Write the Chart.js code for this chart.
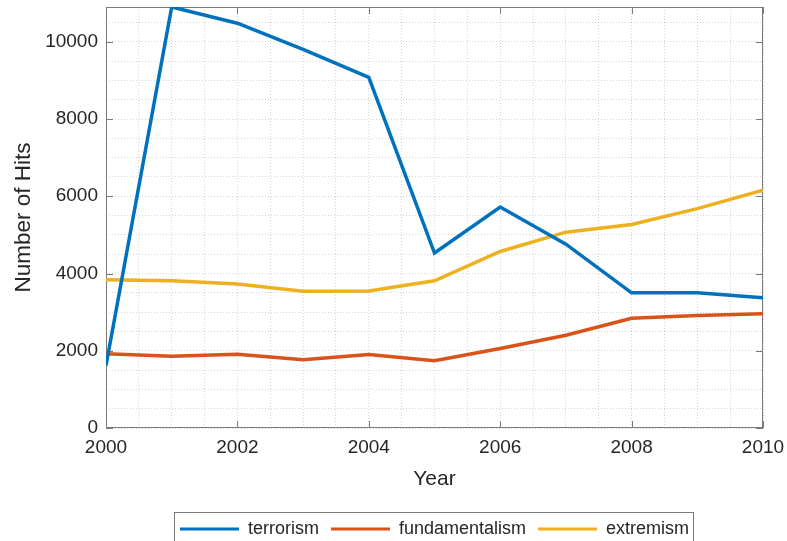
<!DOCTYPE html>
<html>
<head>
<meta charset="utf-8">
<script src="https://cdn.jsdelivr.net/npm/chart.js@4"></script>
<style>
  html, body { margin: 0; padding: 0; background: #fff; overflow: hidden; }
  #wrap { width: 787px; height: 548px; }
</style>
</head>
<body>
<div id="wrap"><canvas id="hits"></canvas></div>
<script>
const years = [2000, 2001, 2002, 2003, 2004, 2005, 2006, 2007, 2008, 2009, 2010];
const terrorism = [1620, 10900, 10480, 9800, 9080, 4530, 5720, 4760, 3500, 3500, 3370];
const fundamentalism = [1920, 1860, 1910, 1770, 1900, 1740, 2060, 2400, 2840, 2910, 2960];
const extremism = [3840, 3810, 3730, 3540, 3550, 3810, 4570, 5070, 5270, 5680, 6160];
const yearTicks = [2000, 2002, 2004, 2006, 2008, 2010];
const hitTicks = [0, 2000, 4000, 6000, 8000, 10000];

const FONT = '"Liberation Sans", Arial, Helvetica, sans-serif';
const INK = '#262626';
const AXIS = '#7a7a7a';

// dotted grid: every half year and every 500 hits
const gridYears = [];
for (let v = 2000; v <= 2010; v += 0.5) gridYears.push(v);
const gridHits = [];
for (let v = 0; v <= 10500; v += 500) gridHits.push(v);

function series(label, values, color) {
  return {
    label,
    data: years.map((y, i) => ({ x: y, y: values[i] })),
    borderColor: color,
    backgroundColor: color,
    borderWidth: 3.5,
    pointRadius: 0,
    tension: 0,
  };
}

// no extra room for overhanging end labels: the plot box is placed by layout padding
function noEdgePadding(scale) {
  scale.paddingTop = 0;
  scale.paddingBottom = 0;
  scale.paddingLeft = 0;
  scale.paddingRight = 0;
}

// box around the axes with inward tick marks, plus a frame around the legend
const frame = {
  id: 'frame',
  beforeDatasetsDraw(chart) {
    const { ctx, chartArea: a, scales } = chart;
    const len = 7;
    ctx.save();
    ctx.strokeStyle = AXIS;
    ctx.lineWidth = 1;
    ctx.strokeRect(a.left + 0.5, a.top + 0.5, a.right - a.left - 1, a.bottom - a.top - 1);
    ctx.beginPath();
    yearTicks.forEach(v => {
      const x = Math.round(scales.x.getPixelForValue(v)) + 0.5;
      ctx.moveTo(x, a.bottom); ctx.lineTo(x, a.bottom - len);
      ctx.moveTo(x, a.top); ctx.lineTo(x, a.top + len);
    });
    hitTicks.forEach(v => {
      const y = Math.round(scales.y.getPixelForValue(v)) + 0.5;
      ctx.moveTo(a.left, y); ctx.lineTo(a.left + len, y);
      ctx.moveTo(a.right, y); ctx.lineTo(a.right - len, y);
    });
    ctx.stroke();
    ctx.restore();
  },
  afterDraw(chart) {
    const boxes = chart.legend.legendHitBoxes;
    if (!boxes || !boxes.length) return;
    const first = boxes[0];
    const last = boxes[boxes.length - 1];
    const mid = first.top + first.height / 2;
    const ctx = chart.ctx;
    ctx.save();
    ctx.strokeStyle = AXIS;
    ctx.lineWidth = 1;
    const l = Math.round(first.left - 6) + 0.5;
    const r = Math.round(last.left + last.width + 4) + 0.5;
    const t = Math.round(mid - 17) + 0.5;
    ctx.strokeRect(l, t, r - l, 40);
    ctx.restore();
  }
};

new Chart(document.getElementById('hits'), {
  type: 'line',
  data: {
    datasets: [
      series('terrorism', terrorism, '#0072BD'),
      series('fundamentalism', fundamentalism, '#D95319'),
      series('extremism', extremism, '#EDB120'),
    ],
  },
  options: {
    responsive: true,
    maintainAspectRatio: false,
    animation: false,
    layout: { padding: { left: 0, right: 24, top: 7, bottom: 0 } },
    plugins: {
      tooltip: { enabled: false },
      legend: {
        position: 'bottom',
        fullSize: false,
        labels: {
          boxWidth: 59,
          boxHeight: 3,
          padding: 12,
          color: INK,
          font: { family: FONT, size: 18 },
          generateLabels(chart) {
            return Chart.defaults.plugins.legend.labels.generateLabels(chart)
              .map(item => Object.assign(item, { lineWidth: 0 }));
          },
        },
      },
    },
    scales: {
      x: {
        type: 'linear',
        min: 2000,
        max: 2010,
        afterBuildTicks(scale) { scale.ticks = gridYears.map(value => ({ value })); },
        afterFit(scale) { scale.height = 80; noEdgePadding(scale); },
        ticks: {
          autoSkip: false,
          maxRotation: 0,
          padding: 8,
          color: INK,
          font: { family: FONT, size: 19 },
          callback: v => (yearTicks.includes(v) ? String(v) : ''),
        },
        grid: { color: 'rgba(0,0,0,0.17)', drawTicks: false },
        border: { display: false, dash: [1, 2] },
        title: {
          display: true,
          text: 'Year',
          color: INK,
          font: { family: FONT, size: 21 },
          padding: { top: 0, bottom: 16 },
        },
      },
      y: {
        min: 0,
        max: 10900,
        afterBuildTicks(scale) { scale.ticks = gridHits.map(value => ({ value })); },
        afterFit(scale) { scale.width = 106; noEdgePadding(scale); },
        ticks: {
          autoSkip: false,
          padding: 8,
          color: INK,
          font: { family: FONT, size: 19 },
          callback: v => (hitTicks.includes(v) ? String(v) : ''),
        },
        grid: { color: 'rgba(0,0,0,0.17)', drawTicks: false },
        border: { display: false, dash: [1, 2] },
        title: {
          display: true,
          text: 'Number of Hits',
          color: INK,
          font: { family: FONT, size: 22.5 },
          padding: { top: 10, bottom: 0 },
        },
      },
    },
  },
  plugins: [frame],
});
</script>
</body>
</html>
